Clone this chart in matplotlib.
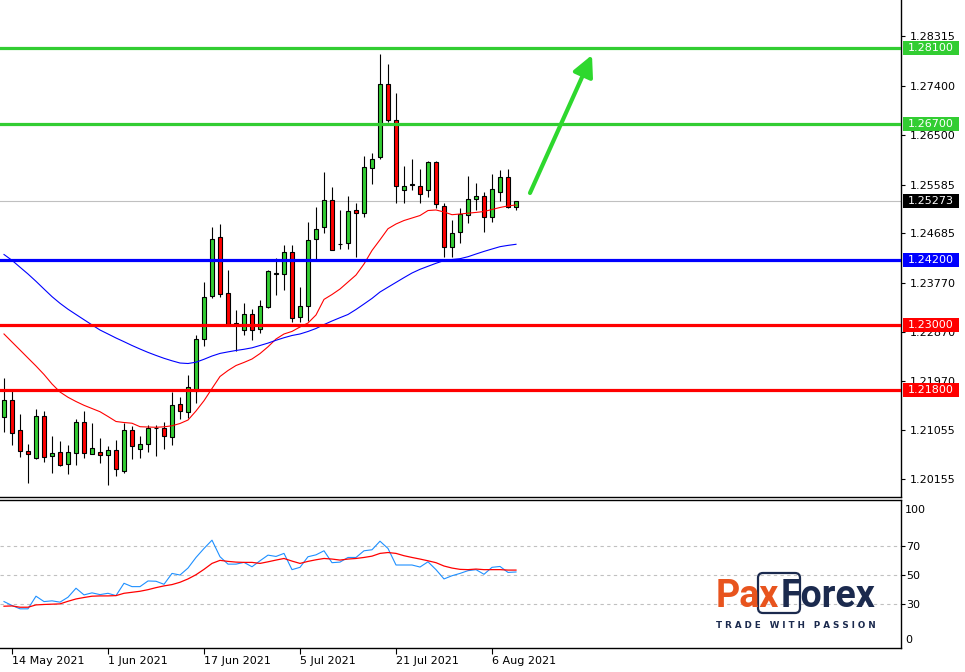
import matplotlib
matplotlib.use("Agg")
import matplotlib.pyplot as plt
from matplotlib.patches import Rectangle, FancyBboxPatch
from matplotlib.transforms import blended_transform_factory, IdentityTransform

plt.rcParams['font.family'] = ['DejaVu Sans']

# ---------------- data ----------------
opens = [1.21308, 1.21616, 1.21063, 1.20676, 1.20542, 1.21321, 1.20590, 1.20652, 1.20431, 1.20645,
         1.21205, 1.20630, 1.20652, 1.20597, 1.20695, 1.20313, 1.21063, 1.20708, 1.20800, 1.21095,
         1.21095, 1.20940, 1.21542, 1.21400, 1.21787, 1.22734, 1.23532, 1.24613, 1.23581, 1.23021,
         1.22911, 1.23200, 1.22918, 1.23334, 1.23942, 1.23931, 1.24336, 1.23150, 1.23353, 1.24587,
         1.24802, 1.25294, 1.24495, 1.24502, 1.25110, 1.25055, 1.25884, 1.26086, 1.27437, 1.26768,
         1.25484, 1.25582, 1.25558, 1.25484, 1.25994, 1.25189, 1.24429, 1.24705, 1.25024, 1.25313,
         1.25374, 1.24981, 1.25453, 1.25724, 1.25176]
highs = [1.22021, 1.21791, 1.21358, 1.20805, 1.21444, 1.21413, 1.20953, 1.20861, 1.20787, 1.21266,
         1.21413, 1.21192, 1.20910, 1.20768, 1.20879, 1.21187, 1.21137, 1.20953, 1.21155, 1.21155,
         1.21216, 1.21769, 1.21680, 1.22076, 1.22813, 1.23795, 1.24808, 1.24858, 1.24010, 1.23274,
         1.23397, 1.23292, 1.23458, 1.24010, 1.24226, 1.24471, 1.24471, 1.23703, 1.24900, 1.25176,
         1.25816, 1.25545, 1.25116, 1.25374, 1.25239, 1.26105, 1.26160, 1.27989, 1.27805, 1.27276,
         1.25926, 1.26055, 1.25871, 1.26024, 1.26024, 1.25250, 1.24931, 1.25147, 1.25742, 1.25607,
         1.25453, 1.25773, 1.25852, 1.25871, 1.25281]
lows = [1.21021, 1.20787, 1.20571, 1.20081, 1.20529, 1.20479, 1.20277, 1.20400, 1.20253, 1.20419,
        1.20553, 1.20612, 1.20450, 1.20050, 1.20216, 1.20277, 1.20535, 1.20542, 1.20664, 1.20584,
        1.20708, 1.20787, 1.21266, 1.21279, 1.21555, 1.22611, 1.23489, 1.23519, 1.23016, 1.22518,
        1.22813, 1.22721, 1.22844, 1.23305, 1.23559, 1.23642, 1.23058, 1.23058, 1.23071, 1.24195,
        1.24686, 1.24370, 1.24403, 1.24392, 1.24255, 1.24981, 1.25589, 1.26055, 1.26742, 1.25250,
        1.25250, 1.25484, 1.25250, 1.25350, 1.25147, 1.24255, 1.24244, 1.24502, 1.24871, 1.25116,
        1.24716, 1.24900, 1.25287, 1.25147, 1.25116]
closes = [1.21616, 1.21002, 1.20676, 1.20627, 1.21321, 1.20571, 1.20640, 1.20419, 1.20652, 1.21205,
          1.20645, 1.20732, 1.20603, 1.20695, 1.20339, 1.21063, 1.20768, 1.20800, 1.21106, 1.21100,
          1.20953, 1.21524, 1.21419, 1.21850, 1.22734, 1.23519, 1.24576, 1.23568, 1.23021, 1.23029,
          1.23200, 1.22905, 1.23347, 1.23998, 1.23950, 1.24336, 1.23121, 1.23353, 1.24557, 1.24760,
          1.25291, 1.24373, 1.24489, 1.25092, 1.25055, 1.25908, 1.26055, 1.27437, 1.26768, 1.25558,
          1.25558, 1.25589, 1.25405, 1.25994, 1.25221, 1.24429, 1.24686, 1.25042, 1.25313, 1.25374,
          1.24981, 1.25497, 1.25724, 1.25176, 1.25273]

ma_fast = [1.22832, 1.22684, 1.22537, 1.22389, 1.22242, 1.22086, 1.21911, 1.21763, 1.21666, 1.21588,
           1.21518, 1.21459, 1.21400, 1.21312, 1.21220, 1.21201, 1.21188, 1.21124, 1.21118, 1.21113,
           1.21122, 1.21141, 1.21183, 1.21247, 1.21413, 1.21603, 1.21828, 1.22049, 1.22159, 1.22251,
           1.22308, 1.22371, 1.22471, 1.22596, 1.22739, 1.22832, 1.22879, 1.22961, 1.23034, 1.23182,
           1.23469, 1.23559, 1.23660, 1.23789, 1.23918, 1.24121, 1.24370, 1.24567, 1.24771, 1.24858,
           1.24922, 1.24968, 1.25014, 1.25106, 1.25116, 1.25079, 1.25029, 1.25042, 1.25057, 1.25071,
           1.25088, 1.25125, 1.25162, 1.25191, 1.25208]
ma_slow = [1.24296, 1.24189, 1.24062, 1.23937, 1.23802, 1.23660, 1.23520, 1.23397, 1.23288, 1.23191,
           1.23095, 1.22999, 1.22905, 1.22832, 1.22758, 1.22690, 1.22620, 1.22555, 1.22493, 1.22437,
           1.22384, 1.22338, 1.22297, 1.22288, 1.22312, 1.22366, 1.22426, 1.22474, 1.22502, 1.22528,
           1.22550, 1.22577, 1.22620, 1.22664, 1.22716, 1.22763, 1.22804, 1.22832, 1.22878, 1.22933,
           1.23005, 1.23071, 1.23132, 1.23191, 1.23283, 1.23384, 1.23487, 1.23605, 1.23694, 1.23782,
           1.23870, 1.23955, 1.24023, 1.24079, 1.24134, 1.24184, 1.24204, 1.24219, 1.24255, 1.24305,
           1.24353, 1.24397, 1.24440, 1.24464, 1.24484]

rsi = [31.7, 29.0, 26.7, 26.7, 35.4, 31.7, 32.2, 31.3, 34.7, 40.9,
       36.3, 37.7, 36.5, 37.4, 35.8, 44.3, 42.0, 42.0, 45.9, 45.7,
       43.6, 51.1, 50.0, 54.8, 62.1, 68.3, 74.0, 62.6, 57.5, 57.5,
       58.7, 55.7, 59.8, 63.7, 62.8, 64.9, 53.7, 55.3, 62.6, 63.9,
       66.7, 58.5, 58.9, 62.1, 62.1, 66.7, 67.4, 73.3, 68.3, 56.9,
       56.9, 56.9, 55.5, 59.1, 53.7, 47.3, 49.5, 51.1, 53.0, 53.7,
       50.5, 55.3, 55.9, 51.8, 52.1]
rsi_ma = [28.5, 28.7, 27.8, 27.8, 29.4, 29.7, 29.9, 30.1, 31.9, 33.5,
          34.5, 35.4, 35.6, 35.6, 35.8, 37.4, 38.1, 38.8, 39.9, 41.3,
          42.5, 43.4, 45.0, 47.3, 50.2, 53.9, 58.0, 60.1, 59.4, 58.9,
          58.7, 58.7, 58.0, 59.1, 60.3, 61.4, 59.6, 58.0, 59.4, 60.5,
          61.4, 61.0, 60.3, 61.0, 61.4, 62.1, 63.0, 64.9, 65.5, 64.9,
          63.3, 62.1, 61.0, 59.8, 58.5, 56.2, 54.8, 53.9, 53.7, 54.1,
          53.7, 53.7, 53.7, 53.4, 53.4]

price_ticks = [1.28315, 1.27400, 1.26500, 1.25585, 1.24685, 1.23770, 1.22870, 1.21970, 1.21055, 1.20155]
level_values = [1.28100, 1.26700, 1.24200, 1.23000, 1.21800]
level_colors = ['#32CD32', '#32CD32', '#0000FF', '#FF0000', '#FF0000']
current_price = 1.25273
date_labels = ['14 May 2021', '1 Jun 2021', '17 Jun 2021', '5 Jul 2021', '21 Jul 2021', '6 Aug 2021']
date_bar_index = [1, 13, 25, 37, 49, 61]
rsi_levels = [30, 50, 70]
arrow_start = (65.75, 1.25429)
arrow_end = (73.5, 1.27971)

# ---------------- figure ----------------
W, H = 965, 672
fig = plt.figure(figsize=(W / 100, H / 100), dpi=100, facecolor='white')

def frac(x0, y_top, x1, y_bot):
    return [x0 / W, 1 - y_bot / H, (x1 - x0) / W, (y_bot - y_top) / H]

ax = fig.add_axes(frac(0, 0, 901, 497))
axi = fig.add_axes(frac(0, 500, 901, 648))

n = len(opens)
xs = list(range(n))
xlim = (-0.5, 112.125)

# candles
ax.vlines(xs, lows, highs, color='black', linewidth=0.8, zorder=2)
bottoms = [min(o, c) for o, c in zip(opens, closes)]
heights = [max(abs(c - o), 0.00001) for o, c in zip(opens, closes)]
colors = ['#32CD32' if c >= o else '#FF0000' for o, c in zip(opens, closes)]
ax.bar(xs, heights, bottom=bottoms, width=0.62, color=colors, edgecolor='black',
       linewidth=0.8, zorder=3)

# moving averages
ax.plot(xs, ma_fast, color='#FF0000', linewidth=0.8, zorder=4)
ax.plot(xs, ma_slow, color='#0000FF', linewidth=0.8, zorder=4)

# levels
ax.axhline(current_price, color='#C0C0C0', linewidth=0.8, zorder=1)
for v, c in zip(level_values, level_colors):
    ax.axhline(v, color=c, linewidth=2.3, zorder=6)

# arrow
ax.annotate('', xy=arrow_end, xytext=arrow_start,
            arrowprops=dict(arrowstyle='-|>,head_length=0.9,head_width=0.45', color='#2ED82E',
                            lw=3, shrinkA=0, shrinkB=0, mutation_scale=14), zorder=7)

ax.set_xlim(*xlim)
ax.set_ylim(1.19829, 1.28984)
ax.yaxis.tick_right()
ax.set_yticks(price_ticks)
ax.set_yticklabels([f'{v:.5f}' for v in price_ticks])
ax.tick_params(axis='y', direction='out', length=3, width=0.8, pad=3, labelsize=8, colors='black')
ax.set_xticks([])
for s in ['left', 'top']:
    ax.spines[s].set_visible(False)
ax.spines['right'].set_linewidth(1.0)
ax.spines['bottom'].set_linewidth(1.0)

# price labels on axis
tr = blended_transform_factory(ax.transAxes, ax.transData)
box_w = 56 / 901
box_h = 14 / (497 / (1.28984 - 1.19829))
for v, c in list(zip(level_values, level_colors)) + [(current_price, '#000000')]:
    ax.add_patch(Rectangle((1 + 2 / 901, v - box_h / 2), box_w, box_h, transform=tr,
                           facecolor=c, edgecolor='none', clip_on=False, zorder=8))
    ax.text(1 + 7 / 901, v, f'{v:.5f}', transform=tr, color='white', fontsize=8,
            va='center', ha='left', zorder=9, clip_on=False)

# ---------------- indicator ----------------
for lv in rsi_levels:
    axi.axhline(lv, color='#C0C0C0', linewidth=0.8, linestyle=(0, (3, 3)), zorder=1)
axi.plot(xs, rsi, color='#1E90FF', linewidth=0.8, zorder=3)
axi.plot(xs, rsi_ma, color='#FF0000', linewidth=0.9, zorder=4)
axi.set_xlim(*xlim)
axi.set_ylim(-0.3, 101.7)
axi.yaxis.tick_right()
axi.set_yticks(rsi_levels)
axi.set_yticklabels([str(v) for v in rsi_levels])
axi.tick_params(axis='y', direction='out', length=3, width=0.8, pad=1, labelsize=8)
axi.text(1 + 4 / 901, 1 - 10 / 148, '100', transform=axi.transAxes, fontsize=8, va='center', ha='left')
axi.text(1 + 4 / 901, 8 / 148, '0', transform=axi.transAxes, fontsize=8, va='center', ha='left')
axi.set_xticks(date_bar_index)
axi.set_xticklabels(date_labels, ha='left')
axi.tick_params(axis='x', direction='out', length=4, width=0.8, pad=2, labelsize=8)
axi.spines['left'].set_visible(False)
for s in ['top', 'right', 'bottom']:
    axi.spines[s].set_linewidth(1.0)

# ---------------- logo ----------------
orange = '#E8541E'
navy = '#1B2A4E'
logo_font = dict(fontsize=27, fontweight='bold', family=['Roboto', 'DejaVu Sans'])
t1 = fig.text(716 / W, 1 - 607 / H, 'Pax', color=orange, ha='left', va='baseline', **logo_font)
fig.canvas.draw()
bb = t1.get_window_extent(renderer=fig.canvas.get_renderer())
fig.text((bb.x1 + 1) / W, 1 - 607 / H, 'Forex', color=navy, ha='left', va='baseline', **logo_font)
box = FancyBboxPatch((758, H - 613), 42, 40, boxstyle='round,pad=0,rounding_size=5',
                     transform=IdentityTransform(), facecolor='none', edgecolor=navy, linewidth=1.6)
fig.add_artist(box)
fig.text(796 / W, 1 - 625 / H, 'T R A D E   W I T H   P A S S I O N', fontsize=6.3, fontweight='bold',
         color=navy, ha='center', va='center')

fig.savefig('out.png', dpi=100, facecolor='white')
